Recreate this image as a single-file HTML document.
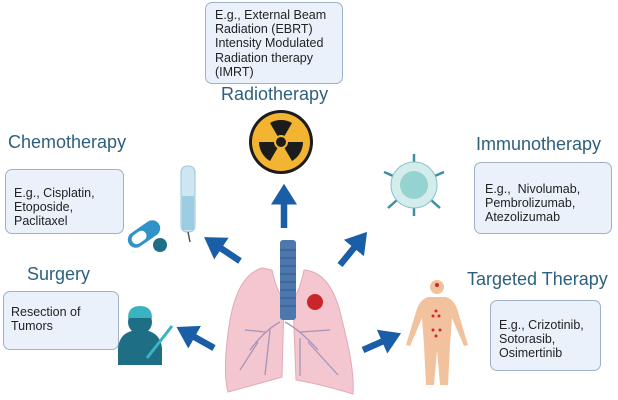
<!DOCTYPE html>
<html><head><style>
body{margin:0;width:618px;height:400px;background:#fff;overflow:hidden;position:relative;font-family:"Liberation Sans",sans-serif}
.box{position:absolute;background:#eaf1fb;border:1.5px solid #9fb1c4;border-radius:7px;box-sizing:border-box;font-size:12.5px;color:#222;line-height:14.2px;white-space:nowrap}
.t{position:absolute;color:#2d607f;font-size:18px;white-space:nowrap}
</style></head><body>
<div class="box" style="left:205px;top:2px;width:138px;height:82px;padding:5px 0 0 9px">E.g., External Beam<br>Radiation (EBRT)<br>Intensity Modulated<br>Radiation therapy<br>(IMRT)</div>
<div class="t" style="left:221px;top:84px">Radiotherapy</div>
<div class="t" style="left:8px;top:132px">Chemotherapy</div>
<div class="box" style="left:5px;top:169px;width:119px;height:65px;padding:16px 0 0 8px">E.g., Cisplatin,<br>Etoposide,<br>Paclitaxel</div>
<div class="t" style="left:27px;top:264px">Surgery</div>
<div class="box" style="left:3px;top:291px;width:116px;height:59px;padding:13px 0 0 7px">Resection of<br>Tumors</div>
<div class="t" style="left:476px;top:134px">Immunotherapy</div>
<div class="box" style="left:474px;top:162px;width:138px;height:72px;padding:19px 0 0 10px">E.g.,&nbsp; Nivolumab,<br>Pembrolizumab,<br>Atezolizumab</div>
<div class="t" style="left:467px;top:269px">Targeted Therapy</div>
<div class="box" style="left:490px;top:300px;width:111px;height:71px;padding:17px 0 0 8px">E.g., Crizotinib,<br>Sotorasib,<br>Osimertinib</div>
<svg width="618" height="400" style="position:absolute;left:0;top:0">
<defs><marker id="a" markerWidth="4" markerHeight="4" refX="1" refY="2" orient="auto" markerUnits="strokeWidth"><path d="M0,0 L3.2,2 L0,4z" fill="#1a5ea8"/></marker></defs>
<g stroke="#1a5ea8" stroke-width="6.5" marker-end="url(#a)">
<line x1="284" y1="228" x2="284" y2="198"/>
<line x1="240" y1="261" x2="216" y2="245"/>
<line x1="214" y1="348" x2="189" y2="334"/>
<line x1="340" y1="265" x2="358" y2="243"/>
<line x1="363" y1="350" x2="388" y2="339"/>
</g>
<circle cx="281" cy="142" r="32" fill="#1c1c1c"/>
<circle cx="281" cy="142" r="29" fill="#f3b431"/>
<g fill="#1c1c1c">
<path d="M281,142 L270,123 A22,22 0 0 1 292,123 Z"/>
<path d="M281,142 L303,142 A22,22 0 0 1 292,161 Z"/>
<path d="M281,142 L270,161 A22,22 0 0 1 259,142 Z"/>
</g>
<circle cx="281" cy="142" r="7" fill="#f3b431"/><circle cx="281" cy="142" r="5" fill="#1c1c1c"/>
<rect x="126" y="226" width="36" height="16" rx="8" fill="#2f93c7" transform="rotate(-35 144 234)"/>
<rect x="130" y="229" width="16" height="10" rx="5" fill="#fff" transform="rotate(-35 144 234)"/>
<circle cx="160" cy="245" r="7" fill="#1e6f86"/>
<rect x="181" y="166" width="14" height="66" rx="6" fill="#cde6f2" stroke="#9ac4da"/>
<rect x="182" y="196" width="12" height="34" fill="#9ccde3"/>
<line x1="188" y1="232" x2="190" y2="242" stroke="#555" stroke-width="1.5"/>
<path d="M118,365 L118,348 Q120,330 140,330 Q160,330 162,348 L162,365Z" fill="#1e6f86"/>
<circle cx="140" cy="322" r="12" fill="#1e6f86"/>
<path d="M128,318 Q128,306 140,306 Q152,306 152,318Z" fill="#3ab3c0"/>
<line x1="147" y1="358" x2="172" y2="326" stroke="#3ab3c0" stroke-width="3"/>
<path d="M262,268 Q238,275 230,320 Q222,370 228,392 Q265,382 282,377 L284,300 Q276,290 272,270Z" fill="#f4c6cf" stroke="#e3a9b5"/>
<path d="M304,270 Q332,272 342,320 Q355,370 353,394 Q320,384 296,380 L293,300 Q300,290 304,270Z" fill="#f4c6cf" stroke="#e3a9b5"/>
<g stroke="#a695b8" stroke-width="1.3" fill="none">
<path d="M280,322 Q265,330 250,350 M265,332 L245,330 M258,342 L240,370 M270,330 L265,375 M285,322 Q300,330 318,350 M300,332 L330,330 M308,342 L338,375 M300,338 L300,376"/>
</g>
<rect x="280" y="240" width="16" height="80" rx="3" fill="#4d78ad"/>
<g stroke="#3a5f90" stroke-width="1.2"><line x1="280" y1="250" x2="296" y2="250"/><line x1="280" y1="258" x2="296" y2="258"/><line x1="280" y1="266" x2="296" y2="266"/><line x1="280" y1="274" x2="296" y2="274"/><line x1="280" y1="282" x2="296" y2="282"/><line x1="280" y1="290" x2="296" y2="290"/><line x1="280" y1="298" x2="296" y2="298"/><line x1="280" y1="306" x2="296" y2="306"/></g>
<circle cx="315" cy="302" r="8" fill="#c8262a"/>
<g stroke="#3e8ea3" stroke-width="2.5">
<line x1="414" y1="185" x2="414" y2="154"/><line x1="414" y1="185" x2="414" y2="216"/>
<line x1="414" y1="185" x2="384" y2="172"/><line x1="414" y1="185" x2="444" y2="172"/>
<line x1="414" y1="185" x2="388" y2="208"/><line x1="414" y1="185" x2="440" y2="208"/>
</g>
<circle cx="414" cy="185" r="23" fill="#d3ecec" stroke="#88c2c8"/>
<circle cx="414" cy="185" r="14" fill="#94d3cf"/>
<g fill="#f1c29d">
<circle cx="437" cy="287" r="7"/>
<path d="M428,297 L446,297 Q455,300 458,312 L468,345 L464,346 L452,318 L450,345 L448,385 L440,385 L437,350 L434,385 L426,385 L424,345 L422,318 L410,346 L406,345 L416,312 Q419,300 428,297Z"/>
</g>
<g fill="#d4262a"><circle cx="437" cy="285" r="2"/><circle cx="436" cy="311" r="1.5"/><circle cx="433" cy="316" r="1.5"/><circle cx="439" cy="316" r="1.5"/><circle cx="433" cy="330" r="1.5"/><circle cx="440" cy="330" r="1.5"/><circle cx="436" cy="336" r="1.5"/></g>
</svg>
</body></html>
